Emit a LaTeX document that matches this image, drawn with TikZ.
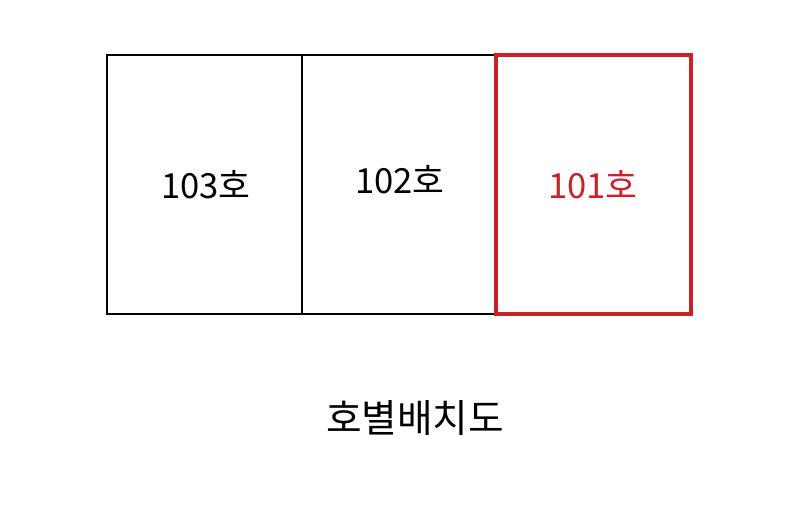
\documentclass[tikz,border=0pt]{standalone}
\usepackage{fontspec}
\setmainfont{Noto Sans CJK KR}
\usepackage{xcolor}
\usetikzlibrary{positioning}
\definecolor{roomred}{RGB}{204,32,36}

\begin{document}
\begin{tikzpicture}[x=0.02cm, y=-0.02cm,
    room/.style={draw, line width=0.8pt, minimum width=3.9cm, minimum height=5.18cm, inner sep=0pt},
    roomtext/.style={font=\fontsize{19.7}{23}\selectfont}]
    \useasboundingbox (0,0) rectangle (800,512);
    % Rooms
    \node[room] (r103) at (204.5,184.5) {};
    \node[room] (r102) at (399,184.5) {};
    \node[room, draw=roomred, line width=2.2pt] (r101) at (593.5,184.5) {};

    % Room numbers
    \node[roomtext] (t103) at (206,185) {103호};
    \node[roomtext] (t102) at (400,180) {102호};
    \node[roomtext, text=roomred] (t101) at (593,185) {101호};

    % Title
    \node[font=\fontsize{22}{26}\selectfont] (title) at (415,418) {호별배치도};
\end{tikzpicture}
\end{document}
